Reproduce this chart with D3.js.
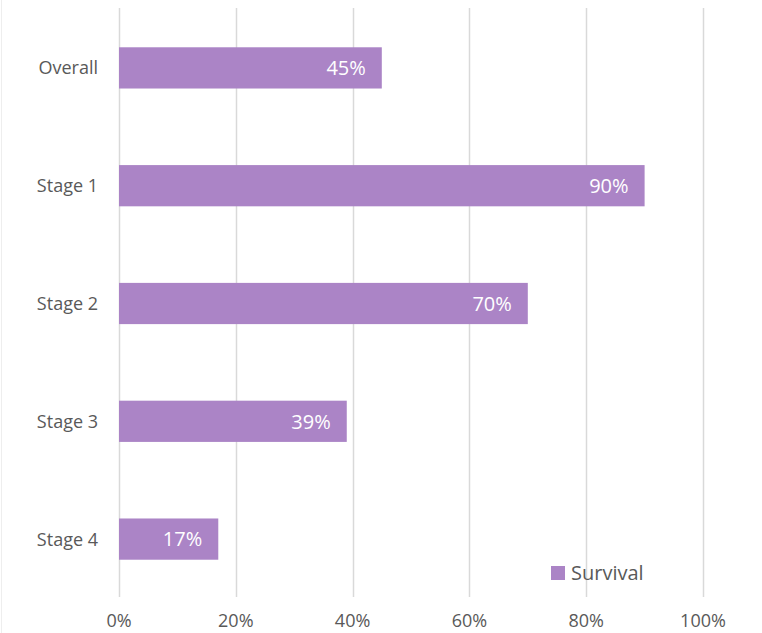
<!DOCTYPE html>
<html>
<head>
<meta charset="utf-8">
<script src="https://cdn.jsdelivr.net/npm/d3@7"></script>
<style>
  body { margin: 0; background: #fff; overflow: hidden; }
  text { font-family: "Open Sans", "Noto Sans", sans-serif; }
</style>
</head>
<body>
<div id="chart"></div>
<script>
var categories = ['Overall', 'Stage 1', 'Stage 2', 'Stage 3', 'Stage 4'];
var survival = [45, 90, 70, 39, 17];
var xTicks = [0, 20, 40, 60, 80, 100];
var seriesName = 'Survival';

var width = 762;
var height = 633;
var barColor = '#ab84c6';
var gridColor = '#d9d9d9';
var textColor = '#595959';

var svg = d3.select('#chart').append('svg')
	.attr('width', width)
	.attr('height', height)
	.style('display', 'block');

var x = d3.scaleLinear().domain([0, 100]).range([119, 703]);
var y = d3.scaleBand().domain(categories).range([9, 598])
	.paddingInner(0.65).paddingOuter(0.325);

// faint chart border on the left
svg.append('line')
	.attr('x1', 1.5).attr('x2', 1.5).attr('y1', 0).attr('y2', height)
	.style('stroke', '#eeeeee');

// gridlines
svg.selectAll('.grid').data(xTicks).enter().append('line')
	.attr('class', 'grid')
	.attr('x1', function(d) { return Math.round(x(d)) + 0.5; })
	.attr('x2', function(d) { return Math.round(x(d)) + 0.5; })
	.attr('y1', 8).attr('y2', 597)
	.style('stroke', gridColor)
	.style('stroke-width', 1.5);

// tick labels
svg.selectAll('.tick-label').data(xTicks).enter().append('text')
	.attr('class', 'tick-label')
	.attr('x', function(d) { return x(d); })
	.attr('y', 627)
	.attr('text-anchor', 'middle')
	.style('font-size', '18px')
	.style('fill', textColor)
	.text(function(d) { return d + '%'; });

// bars
var data = categories.map(function(c, i) { return {label: c, value: survival[i]}; });

svg.selectAll('.bar').data(data).enter().append('rect')
	.attr('class', 'bar')
	.attr('x', x(0))
	.attr('y', function(d) { return y(d.label); })
	.attr('width', function(d) { return x(d.value) - x(0); })
	.attr('height', y.bandwidth())
	.style('fill', barColor);

// value labels
svg.selectAll('.val').data(data).enter().append('text')
	.attr('class', 'val')
	.attr('x', function(d) { return x(d.value) - 16; })
	.attr('y', function(d) { return y(d.label) + y.bandwidth() / 2; })
	.attr('dy', '0.36em')
	.attr('text-anchor', 'end')
	.style('font-size', '20px')
	.style('fill', '#ffffff')
	.text(function(d) { return d.value + '%'; });

// category labels
svg.selectAll('.cat').data(categories).enter().append('text')
	.attr('class', 'cat')
	.attr('x', 98)
	.attr('y', function(d) { return y(d) + y.bandwidth() / 2; })
	.attr('dy', '0.36em')
	.attr('text-anchor', 'end')
	.style('font-size', '18px')
	.style('fill', textColor)
	.text(function(d) { return d; });

// legend
var legend = svg.append('g').attr('transform', 'translate(551,566)');
legend.append('rect')
	.attr('width', 14).attr('height', 14)
	.style('fill', barColor);
legend.append('text')
	.attr('x', 20).attr('y', 7)
	.attr('dy', '0.36em')
	.style('font-size', '20px')
	.style('fill', textColor)
	.text(seriesName);
</script>
</body>
</html>
